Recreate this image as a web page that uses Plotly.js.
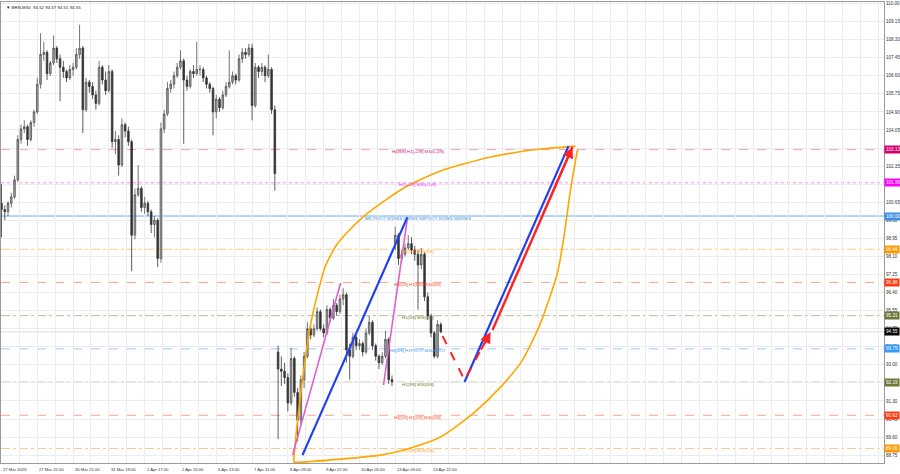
<!DOCTYPE html>
<html><head><meta charset="utf-8">
<script src="https://cdn.plot.ly/plotly-3.0.1.min.js"></script>
<style>html,body{margin:0;padding:0;background:#fff}#chart{width:900px;height:474px}</style>
</head><body><div id="chart"></div>
<script>
// ---- price data (hourly bar index, 2-bar candles) ----
const barIndex = [0,2,4,6,8,10,12,14,16,18,20,22,24,26,28,30,32,34,36,38,40,42,44,46,48,50,52,54,56,58,
60,62,64,66,68,70,72,74,76,78,80,82,84,86,88,90,92,94,96,98,100,102,104,106,108,110,112,114,116,118,
120,122,124,126,128,130,132,134,136,138,140,142,144,146,148,150,152,154,156,158,160,162,164,166,168,
170,172,174,176,178,180,182,184,186,188,190,192,194,196,198,200,202,204,206,208,210,212,214,216,218,
220,222,224,226,228,230,232,234,236,238,240,
242,244,246,248,250,252,254,256,258,260,262,264,266,268,270];
const opens = [100.6,100.3,100.2,100.6,100.9,101.7,103.6,104.1,104.2,103.6,
104.4,104.9,106.2,107.6,107.7,106.7,107.2,107.9,107.4,107.0,
106.8,106.5,106.9,107.0,107.6,107.9,105.0,106.3,106.1,105.7,
105.3,107.0,106.4,105.9,106.8,103.5,103.6,102.4,104.3,104.0,
103.5,99.1,101.0,101.3,100.4,100.6,100.2,99.6,99.8,98.0,
104.1,104.8,106.0,106.2,106.6,107.0,107.3,106.4,106.1,106.8,
106.7,106.9,106.9,106.5,106.2,106.0,104.9,105.5,105.1,105.7,
106.1,106.3,106.6,106.4,107.4,107.7,107.6,107.9,105.2,107.0,
106.8,107.0,106.6,106.9,105.0,
93.6,92.8,92.7,92.4,91.2,93.3,91.7,90.4,92.3,93.4,
94.7,94.4,94.7,95.5,94.7,94.5,95.6,95.2,95.8,95.5,
96.1,96.3,93.7,93.4,94.3,93.9,94.0,93.6,94.5,95.0,
93.9,93.4,93.1,93.4,94.2,92.3,
98.7,99.1,98.0,98.2,98.5,98.7,98.4,98.2,97.7,98.2,
96.2,95.3,94.5,93.4,94.9];
const highs = [101.5,100.5,100.7,101.1,101.9,103.8,104.3,104.5,104.3,104.5,
105.0,106.5,108.6,108.2,107.8,107.3,108.5,108.0,107.6,107.3,
106.9,107.1,107.2,107.9,109.0,108.0,106.5,106.4,106.3,105.9,
107.3,107.1,106.8,107.1,106.9,104.0,103.8,104.6,104.4,104.2,
103.6,101.3,102.4,101.4,100.9,100.7,100.3,100.0,99.9,104.4,
105.0,106.3,106.4,106.8,107.2,107.8,107.4,106.6,106.9,107.1,
108.2,107.1,107.0,106.6,106.3,106.1,105.7,105.6,105.9,106.3,
107.8,106.8,106.7,107.6,107.9,107.9,108.1,108.1,107.2,107.1,
107.2,107.1,107.6,107.0,105.2,
93.9,93.4,93.1,92.6,93.8,93.4,91.9,92.5,93.6,95.0,
94.9,94.9,95.7,95.6,94.9,95.8,95.7,96.1,95.9,96.3,
96.6,96.4,94.0,94.5,94.4,94.2,94.1,94.7,95.3,95.1,
94.0,93.5,93.6,94.6,94.3,92.5,
99.5,99.2,98.4,98.7,99.1,99.0,98.6,98.4,98.5,98.3,
96.4,95.4,94.6,95.1,95.0];
const lows = [99.0,99.8,100.0,100.4,100.8,101.6,103.4,103.9,103.3,103.5,
104.2,104.8,106.0,107.3,106.4,106.6,107.1,107.2,105.4,106.5,
106.3,106.4,106.6,106.9,107.4,103.9,104.9,105.8,105.5,105.0,
105.2,106.2,105.7,105.8,103.2,102.9,101.9,102.3,103.7,103.3,
97.4,98.9,100.9,100.2,100.1,100.0,99.2,99.0,97.6,97.8,
103.9,104.7,105.8,106.0,106.5,106.9,103.4,105.9,106.0,106.5,
106.6,106.6,106.3,106.0,105.8,103.8,104.6,104.9,105.0,105.6,
106.0,106.2,106.2,106.3,107.2,107.4,107.5,104.5,105.1,106.5,
106.6,106.3,106.5,104.8,101.2,
89.5,92.0,92.1,90.8,91.1,91.5,89.4,90.2,91.9,93.3,
94.2,94.3,94.6,94.6,94.3,94.4,95.0,95.1,95.3,95.4,
95.8,93.1,92.3,93.3,93.7,93.7,93.4,93.5,94.4,93.7,
93.2,92.8,93.0,93.3,92.1,92.0,
98.4,97.7,97.8,98.1,98.4,98.2,97.9,95.6,97.5,96.0,
95.1,94.3,93.3,93.3,94.5];
const closes = [100.3,100.2,100.6,100.9,101.7,103.6,104.1,104.2,103.6,104.4,
104.9,106.2,107.6,107.7,106.7,107.2,107.9,107.4,107.0,106.8,
106.5,106.9,107.0,107.6,107.9,105.0,106.3,106.1,105.7,105.3,
107.0,106.4,105.9,106.8,103.5,103.6,102.4,104.3,104.0,103.5,
99.1,101.0,101.3,100.4,100.6,100.2,99.6,99.8,98.0,104.1,
104.8,106.0,106.2,106.6,107.0,107.3,106.4,106.1,106.8,106.7,
106.9,106.9,106.5,106.2,106.0,104.9,105.5,105.1,105.7,106.1,
106.3,106.6,106.4,107.4,107.7,107.6,107.9,105.2,107.0,106.8,
107.0,106.6,106.9,105.0,102.0,
92.8,92.7,92.4,91.2,93.3,91.7,90.4,92.3,93.4,94.7,
94.4,94.7,95.5,94.7,94.5,95.6,95.2,95.8,95.5,96.1,
96.3,93.7,93.4,94.3,93.9,94.0,93.6,94.5,95.0,93.9,
93.4,93.1,93.4,94.2,92.3,92.2,
99.1,98.0,98.2,98.5,98.7,98.4,98.2,97.7,98.2,96.2,
95.3,94.5,93.4,94.9,94.55];

// ---- axis labels ----
const xTickBars = [0,22,44,66,88,110,132,154,176,198,220,242,264];
const xTickLabels = ["27 Mar 2026","27 Mar 22:00","30 Mar 21:00","31 Mar 19:00","1 Apr 17:00","2 Apr 15:00",
  "6 Apr 13:00","7 Apr 11:00","8 Apr 09:00","9 Apr 07:00","10 Apr 05:00","13 Apr 03:00","13 Apr 22:00"];
const yTickVals = [88.75,89.60,90.45,91.30,92.15,93.00,93.85,94.70,95.55,96.40,97.25,98.10,98.95,99.80,
  100.65,101.50,102.35,103.20,104.05,104.90,105.75,106.60,107.45,108.30,109.15,110.00];

// ---- Murrey levels ----
const levelPrices = [103.125,101.5625,100.0,98.4375,96.875,95.3125,93.75,92.1875,90.625,89.0625];
const levelTexts = ["H4[8/8] H1[+2/8] M30[+2/8]","H1[+1/8] M30[+1/8]","MN PIVOT W1RES D1RES H4PIVOT H1RES M30RES",
  "H1[7/8] M30[7/8]","H4[5/8] H1[6/8] M30[6/8]","H1[5/8] M30[5/8]","H4[3/8] H1PIVOT M30PIVOT",
  "H1[3/8] M30[3/8]","H4[1/8] H1[2/8] M30[2/8]","H1[1/8] M30[1/8]"];
const levelTags = ["103.13","101.56","100.00","98.44","96.88","95.31","93.75","92.19","90.63","89.06"];
const levelTextBar = 255.7;
const lastPrice = 94.55;
const lastTag = "94.55";
const headerText = "\u25BC BRN,M30  94.52 94.57 94.51 94.55";

// ---- drawn objects (bar, price) ----
const arcUpperBar = [179.5,181.3,183.8,186.8,189.9,193.6,199.1,205.9,214.5,223.7,236.0,249.5,269.8,300.6,331.3,352.8];
const arcUpperPrice = [88.42,89.93,91.58,93.32,94.87,96.14,97.65,98.64,99.39,100.05,100.75,101.41,102.12,102.78,103.15,103.29];
const arcLowerBar = [179.5,183.8,208.4,232.9,249.5,269.8,290.1,306.7,320.2,331.3,341.7,345.4,349.7,354.0];
const arcLowerPrice = [88.42,88.42,88.56,88.75,89.04,89.60,90.73,91.95,93.22,94.96,97.32,98.87,101.22,103.11];
const blue1Bar = [185.0,249.5], blue1Price = [88.75,99.95];
const blue2Bar = [284.6,348.5], blue2Price = [92.19,103.29];
const pink1Bar = [178.9,208.4], pink1Price = [88.75,96.85];
const pink2Bar = [234.8,249.5], pink2Price = [92.05,99.91];
const redDashBar = [271.1,284.6,300.6], redDashPrice = [94.35,92.28,94.54];
const redSolidBar = [301.8,350.9], redSolidPrice = [94.64,103.25];

// ---- styles ----
const lvlLine = ['#f0a0c8','#ff80ff','#6aaaf0','#ffc98a','#ffa08a','#bcbc96','#98c8ff','#bcbc96','#ffa08a','#ffc98a'];
const lvlDash = ['dash','dot','solid','dashdot','dash','dashdot','dash','dashdot','dash','dashdot'];
const lvlTextCol = ['#d0207f','#ff22ff','#3a8ee6','#ff9a1a','#ff4a1a','#6b7a2a','#3a9af0','#6b7a2a','#ff4a1a','#ff9a1a'];
const lvlTagCol = ['#d4006f','#ff00ff','#3d8fe6','#ff9900','#ff3a10','#6b7a3a','#3399ff','#6b7a3a','#ff3a10','#ff9900'];
const F = 'Arial, "Liberation Sans", sans-serif';

const traces = [];
traces.push({type:'candlestick', x:barIndex, open:opens, high:highs, low:lows, close:closes,
  increasing:{line:{color:'#505050', width:0.8}, fillcolor:'#a8a8a8'},
  decreasing:{line:{color:'#333333', width:0.8}, fillcolor:'#333333'},
  whiskerwidth:0, hoverinfo:'skip'});
function line(x, y, color, width, dash, shape){
  traces.push({type:'scatter', mode:'lines', x:x, y:y, hoverinfo:'skip',
    line:{color:color, width:width, dash:dash||'solid', shape:shape||'linear', smoothing:0.6}});
}
line(arcUpperBar, arcUpperPrice, '#ffa600', 1.6, 'solid', 'spline');
line(arcLowerBar, arcLowerPrice, '#ffa600', 1.6, 'solid', 'spline');
line(pink1Bar, pink1Price, '#de5fd0', 1.6);
line(pink2Bar, pink2Price, '#de5fd0', 1.6);
line(blue1Bar, blue1Price, '#2040f0', 2.2);
line(blue2Bar, blue2Price, '#2040f0', 2.2);
line(redDashBar, redDashPrice, '#ff2222', 2, 'dash');
line(redSolidBar, redSolidPrice, '#ff2222', 2.4);

const shapes = levelPrices.map((p,i)=>({type:'line', xref:'paper', x0:0, x1:1, yref:'y', y0:p, y1:p,
  layer:'below', line:{color:lvlLine[i], width:1, dash:lvlDash[i]}}));
shapes.push({type:'line', xref:'paper', x0:0, x1:1, yref:'y', y0:lastPrice, y1:lastPrice, layer:'below',
  line:{color:'#dcdcdc', width:1}});

const annotations = [];
levelPrices.forEach((p,i)=>{
  annotations.push({x:levelTextBar, y:p, xref:'x', yref:'y', text:levelTexts[i], showarrow:false,
    xanchor:'center', yanchor:'middle', yshift:-2, font:{family:F, size:4.3, color:lvlTextCol[i]}});
  annotations.push({x:1, y:p, xref:'paper', yref:'y', text:levelTags[i], showarrow:false, xanchor:'left',
    yanchor:'middle', xshift:0, bgcolor:lvlTagCol[i], borderpad:1, font:{family:F, size:4.6, color:'#ffffff'}});
});
annotations.push({x:1, y:lastPrice, xref:'paper', yref:'y', text:lastTag, showarrow:false, xanchor:'left',
  yanchor:'middle', bgcolor:'#000000', borderpad:1, font:{family:F, size:4.6, color:'#ffffff'}});
xTickBars.forEach((b,i)=>{
  annotations.push({x:b, y:0, xref:'x', yref:'paper', text:xTickLabels[i], showarrow:false,
    xanchor:'left', yanchor:'top', yshift:-2, font:{family:F, size:4.2, color:'#333'}});
});
annotations.push({x:0, y:1, xref:'paper', yref:'paper', text:headerText, showarrow:false, xanchor:'left',
  yanchor:'top', xshift:3, yshift:-1, font:{family:F, size:4.4, color:'#222'}});
// arrowheads
function arrow(xs, ys, color){
  const n = xs.length;
  const ax = xs[n-2] + (xs[n-1]-xs[n-2])*0.6, ay = ys[n-2] + (ys[n-1]-ys[n-2])*0.6;
  annotations.push({x:xs[n-1], y:ys[n-1], ax:ax, ay:ay, xref:'x', yref:'y', axref:'x', ayref:'y',
    text:'', showarrow:true, arrowhead:2, arrowsize:1.1, arrowwidth:2, arrowcolor:color});
}
arrow(redDashBar, redDashPrice, '#ff2222');
arrow(redSolidBar, redSolidPrice, '#ff2222');

const layout = {
  width:900, height:474,
  margin:{l:1, r:16, t:2, b:11, pad:0},
  paper_bgcolor:'#ffffff', plot_bgcolor:'#ffffff', showlegend:false,
  xaxis:{range:[-0.3,542.4], tickmode:'linear', tick0:0, dtick:11, showticklabels:false, ticks:'',
    showgrid:true, gridcolor:'#ececec', gridwidth:1, zeroline:false, showline:true, mirror:true,
    linecolor:'#9a9a9a', linewidth:1, rangeslider:{visible:false}, fixedrange:true},
  yaxis:{side:'right', range:[88.38,110.07], tickmode:'array', tickvals:yTickVals, tickformat:'.2f',
    tickfont:{family:F, size:4.6, color:'#333'}, ticks:'', showgrid:true, gridcolor:'#ececec',
    zeroline:false, showline:true, mirror:true, linecolor:'#9a9a9a', fixedrange:true},
  shapes:shapes, annotations:annotations
};
Plotly.newPlot('chart', traces, layout, {displayModeBar:false, staticPlot:true});
</script></body></html>
